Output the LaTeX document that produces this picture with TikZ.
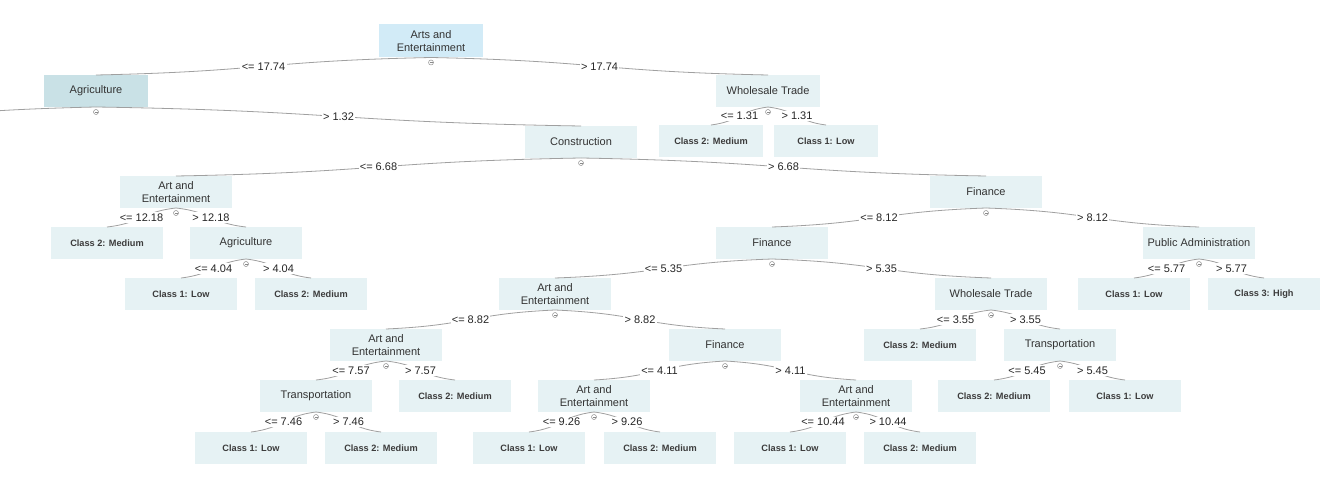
\documentclass[tikz,border=0pt]{standalone}
\usepackage{fontspec}
\setmainfont{Liberation Sans}
\usetikzlibrary{calc}

\definecolor{nodefill}{HTML}{E6F2F4}
\definecolor{rootfill}{HTML}{D2EBF7}
\definecolor{pathfill}{HTML}{C9E1E6}
\definecolor{textgray}{HTML}{333333}
\definecolor{leafgray}{HTML}{3C3C3C}
\definecolor{linegray}{HTML}{A0A0A0}
\definecolor{markgray}{HTML}{8A8A8A}

\tikzset{
  tnode/.style={rectangle, fill=nodefill, draw=none, minimum width=84pt,
    minimum height=24pt, inner sep=0pt, outer sep=0pt, text=textgray,
    align=center, font=\fontsize{8.25}{9.75}\selectfont},
  narrow/.style={minimum width=78pt},
  leaf/.style={tnode, text=leafgray, font=\fontsize{6.9}{8}\selectfont\bfseries},
  edgeline/.style={draw=linegray, line width=0.6pt},
  elabel/.style={fill=white, inner sep=1pt, text=black!85,
    font=\fontsize{8.25}{9.75}\selectfont},
  markline/.style={draw=markgray, line width=0.35pt}
}

% gently curved connector from the bottom of a split node to the top of a child
\newcommand\treeedge[3]{%
  \coordinate (m#1#2) at ($(#1.south)!0.5!(#2.north)$);
  \coordinate (a#1#2) at ($(#1.south)!0.2!(#2.north)$);
  \coordinate (b#1#2) at ($(#1.south)!0.8!(#2.north)$);
  \draw[edgeline] (#1.south) .. controls (m#1#2 |- a#1#2)
    and (m#1#2 |- b#1#2) .. (#2.north) node[elabel, pos=0.5] {#3};
}
% small collapse toggle under a split node
\newcommand\togglemark[1]{%
  \draw[markline] ($(#1.south)+(0,5)$) circle[radius=2.5];
  \draw[markline] ($(#1.south)+(-1.5,5)$) -- ++(3,0);
}

\begin{document}
\begin{tikzpicture}[x=0.75pt, y=-0.75pt]
\clip (0,0) rectangle (1331,488);
\fill[white] (0,0) rectangle (1331,488);

% split nodes
\node[tnode, narrow, fill=rootfill, minimum height=24.75pt] (root) at (431,41) {Arts and\\Entertainment};
\node[tnode, narrow, fill=pathfill] (agrA) at (96,91) {Agriculture};
\node[tnode, narrow] (wtA) at (768,91) {Wholesale Trade};
\node[tnode] (con) at (581,142) {Construction};
\node[tnode] (aeA) at (176,192) {Art and\\Entertainment};
\node[tnode] (finA) at (986,192) {Finance};
\node[tnode] (agrB) at (246,243) {Agriculture};
\node[tnode] (finB) at (772,243) {Finance};
\node[tnode] (pa) at (1199,243) {Public Administration};
\node[tnode] (aeB) at (555,294) {Art and\\Entertainment};
\node[tnode] (wtB) at (991,294) {Wholesale Trade};
\node[tnode] (aeC) at (386,345) {Art and\\Entertainment};
\node[tnode] (finC) at (725,345) {Finance};
\node[tnode] (trA) at (1060,345) {Transportation};
\node[tnode] (trB) at (316,396) {Transportation};
\node[tnode] (aeD) at (594,396) {Art and\\Entertainment};
\node[tnode] (aeE) at (856,396) {Art and\\Entertainment};

% leaves
\node[leaf, narrow] (lA) at (711,141) {Class 2: Medium};
\node[leaf, narrow] (lB) at (826,141) {Class 1: Low};
\node[leaf] (lC) at (107,243) {Class 2: Medium};
\node[leaf] (lD) at (181,294) {Class 1: Low};
\node[leaf] (lE) at (311,294) {Class 2: Medium};
\node[leaf] (lF) at (1134,294) {Class 1: Low};
\node[leaf] (lG) at (1264,294) {Class 3: High};
\node[leaf] (lH) at (920,345) {Class 2: Medium};
\node[leaf] (lI) at (455,396) {Class 2: Medium};
\node[leaf] (lJ) at (994,396) {Class 2: Medium};
\node[leaf] (lK) at (1125,396) {Class 1: Low};
\node[leaf] (lL) at (251,448) {Class 1: Low};
\node[leaf] (lM) at (381,448) {Class 2: Medium};
\node[leaf] (lN) at (529,448) {Class 1: Low};
\node[leaf] (lO) at (660,448) {Class 2: Medium};
\node[leaf] (lP) at (790,448) {Class 1: Low};
\node[leaf] (lQ) at (920,448) {Class 2: Medium};

% branch leaving the drawing area to the left
\coordinate (agrOff) at (-250,126);
\coordinate (mOff) at ($(agrA.south)!0.5!(agrOff)$);
\coordinate (aOff) at ($(agrA.south)!0.2!(agrOff)$);
\coordinate (bOff) at ($(agrA.south)!0.8!(agrOff)$);
\draw[edgeline] (agrA.south) .. controls (mOff |- aOff) and (mOff |- bOff) .. (agrOff);

% connectors
\treeedge{root}{agrA}{<= 17.74}
\treeedge{root}{wtA}{> 17.74}
\treeedge{wtA}{lA}{<= 1.31}
\treeedge{wtA}{lB}{> 1.31}
\treeedge{agrA}{con}{> 1.32}
\treeedge{con}{aeA}{<= 6.68}
\treeedge{con}{finA}{> 6.68}
\treeedge{aeA}{lC}{<= 12.18}
\treeedge{aeA}{agrB}{> 12.18}
\treeedge{agrB}{lD}{<= 4.04}
\treeedge{agrB}{lE}{> 4.04}
\treeedge{finA}{finB}{<= 8.12}
\treeedge{finA}{pa}{> 8.12}
\treeedge{finB}{aeB}{<= 5.35}
\treeedge{finB}{wtB}{> 5.35}
\treeedge{pa}{lF}{<= 5.77}
\treeedge{pa}{lG}{> 5.77}
\treeedge{aeB}{aeC}{<= 8.82}
\treeedge{aeB}{finC}{> 8.82}
\treeedge{wtB}{lH}{<= 3.55}
\treeedge{wtB}{trA}{> 3.55}
\treeedge{aeC}{trB}{<= 7.57}
\treeedge{aeC}{lI}{> 7.57}
\treeedge{finC}{aeD}{<= 4.11}
\treeedge{finC}{aeE}{> 4.11}
\treeedge{trA}{lJ}{<= 5.45}
\treeedge{trA}{lK}{> 5.45}
\treeedge{trB}{lL}{<= 7.46}
\treeedge{trB}{lM}{> 7.46}
\treeedge{aeD}{lN}{<= 9.26}
\treeedge{aeD}{lO}{> 9.26}
\treeedge{aeE}{lP}{<= 10.44}
\treeedge{aeE}{lQ}{> 10.44}

% collapse toggles
\foreach \n in {root,agrA,wtA,con,aeA,finA,agrB,finB,pa,aeB,wtB,aeC,finC,trA,trB,aeD,aeE}
  {\togglemark{\n}}
\end{tikzpicture}
\end{document}
